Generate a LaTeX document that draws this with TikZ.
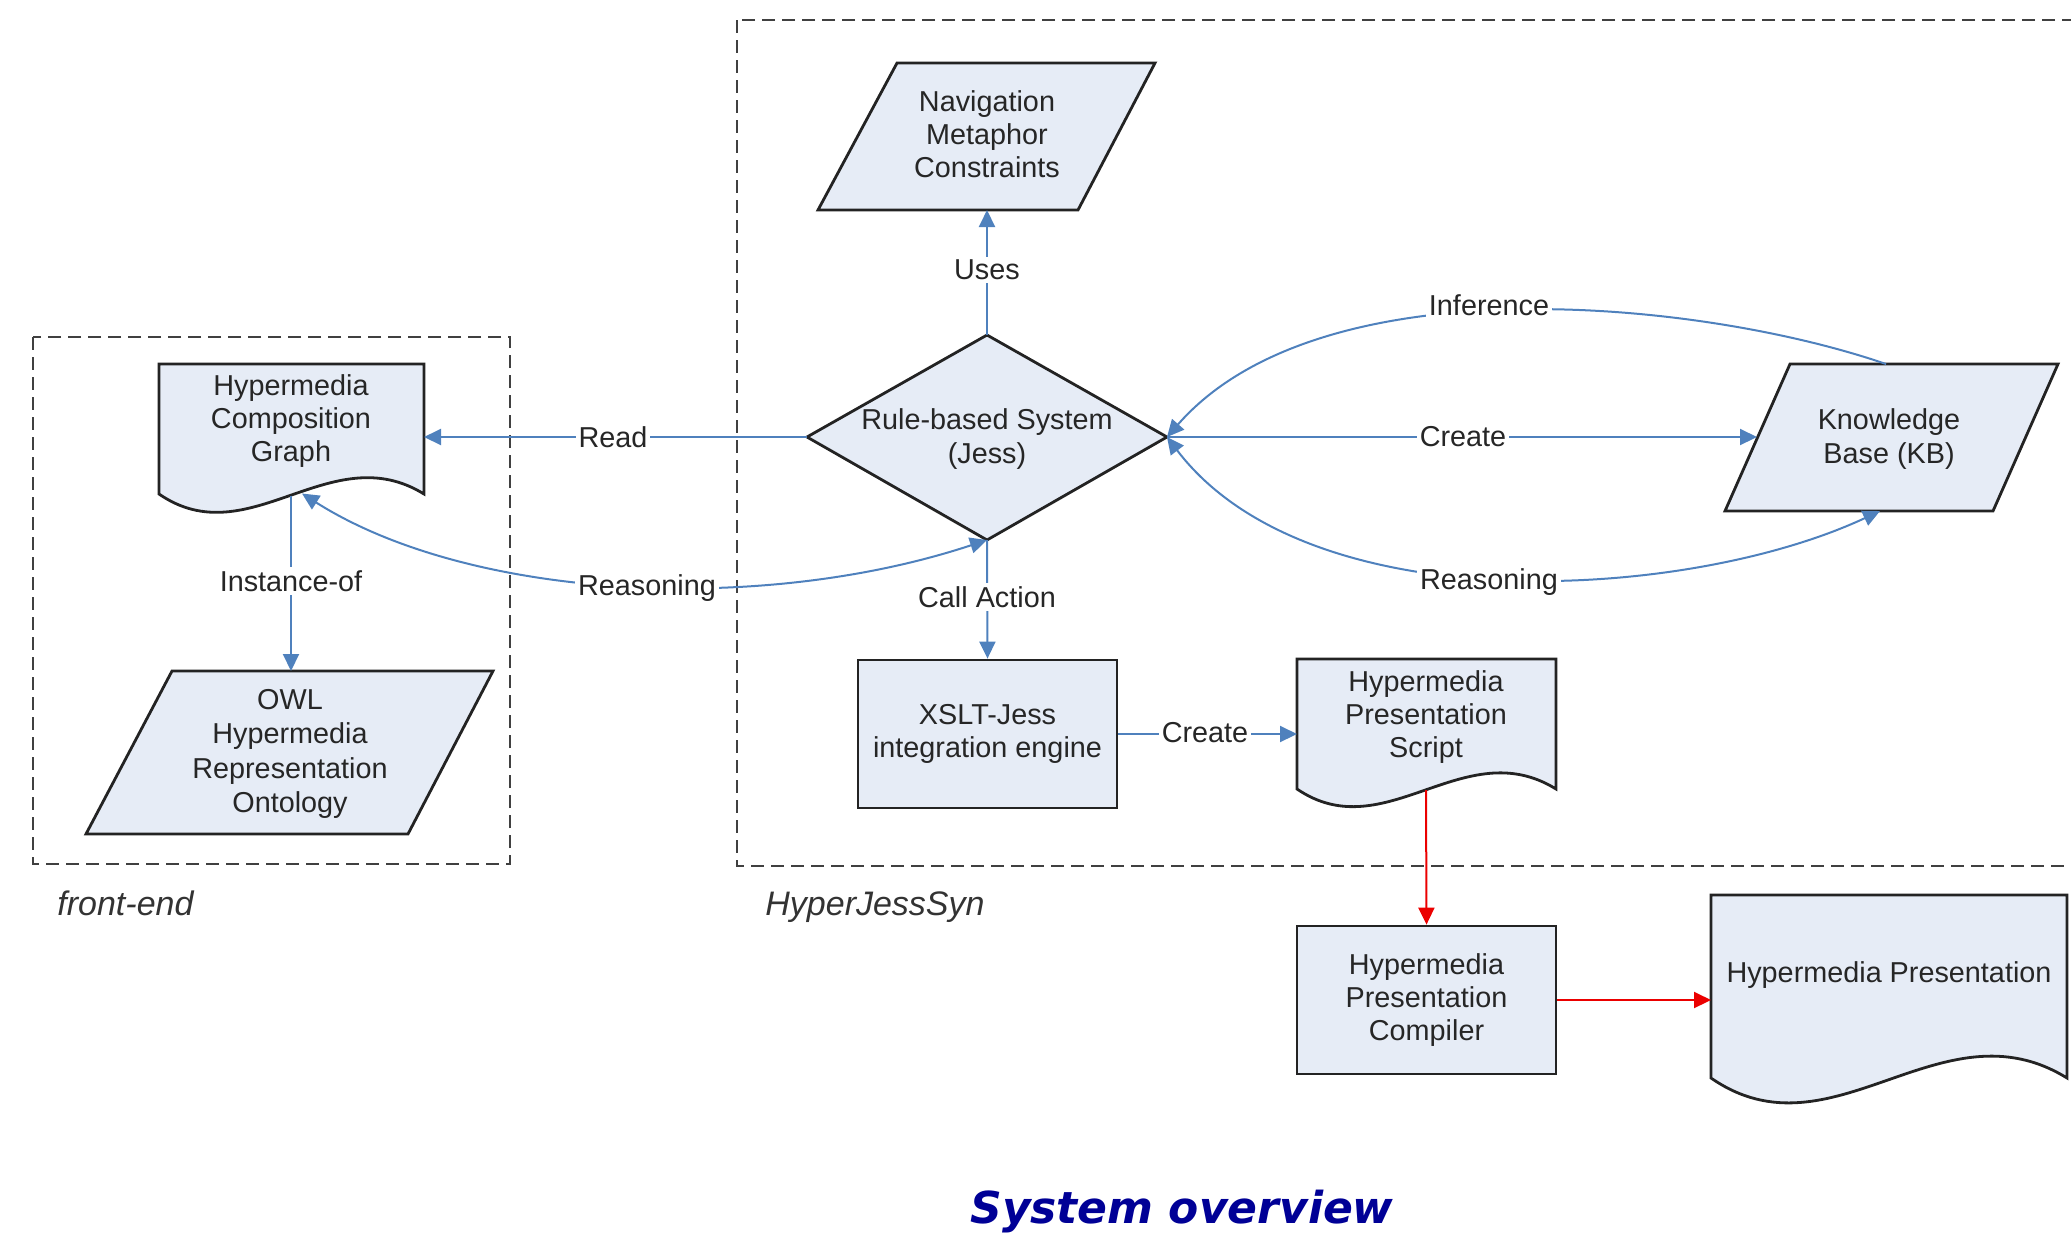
\documentclass[tikz,border=0pt]{standalone}
\usepackage{fontspec}
\setmainfont{Liberation Sans}
\newfontfamily\titlefont{DejaVu Sans}
\usetikzlibrary{arrows.meta}
\definecolor{shapefill}{RGB}{230,236,246}
\definecolor{edgeblue}{RGB}{79,129,189}
\definecolor{edgered}{RGB}{235,0,0}
\definecolor{outline}{RGB}{35,35,35}
\definecolor{titleblue}{RGB}{0,0,150}
\begin{document}
\begin{tikzpicture}[x=0.5pt,y=-0.5pt,
  shapeline/.style={draw=outline, line width=1.4pt, fill=shapefill, line join=miter},
  txt/.style={align=center, font=\fontsize{14.4}{16.6}\selectfont, text=black!85, inner sep=0pt},
  box/.style={shapeline, align=center, font=\fontsize{14.4}{16.6}\selectfont, text=black!85, inner sep=0pt, minimum width=129.5pt, minimum height=74pt},
  frame/.style={draw=black!75, line width=1.2pt, dash pattern=on 6.5pt off 3.5pt},
  tip/.tip={Triangle[length=8.5pt,width=8pt]},
  flow/.style={draw=edgeblue, line width=1pt, -tip},
  flowboth/.style={draw=edgeblue, line width=1pt, tip-tip},
  redflow/.style={draw=edgered, line width=1pt, -tip},
  lbl/.style={fill=white, inner sep=1.5pt, font=\fontsize{14.4}{16.6}\selectfont, text=black!85},
  grouplbl/.style={font=\fontsize{17}{20}\selectfont\itshape, text=black!80, anchor=base west, inner sep=0pt},
]
\useasboundingbox (0,0) rectangle (2071,1233);

% group frames
\draw[frame] (33,337) rectangle (510,864);
\begin{scope}
\clip (0,0) rectangle (2071,1233);
\draw[frame] (737,20) rectangle (2110,866);
\end{scope}
\node[grouplbl] (fe) at (57,915) {front-end};
\node[grouplbl] (hjs) at (765,915) {HyperJessSyn};

% Hypermedia Composition Graph (document)
\draw[shapeline] (159,364) -- (424,364) -- (424,494) .. controls (330,436) and (249,556) .. (159,494) -- cycle;
\node[txt] (hcg) at (291,421) {Hypermedia\\Composition\\Graph};
\coordinate (hcg-r) at (424,437);
\coordinate (hcg-w) at (291,495.5);
\coordinate (hcg-wr) at (302,493.5);

% OWL ontology (parallelogram)
\draw[shapeline] (172,671) -- (493,671) -- (408,834) -- (86,834) -- cycle;
\node[txt, font=\fontsize{14.4}{17.2}\selectfont] (owl) at (290,754) {OWL\\Hypermedia\\Representation\\Ontology};
\coordinate (owl-t) at (291,671);

% Navigation Metaphor Constraints (parallelogram)
\draw[shapeline] (897,63) -- (1155,63) -- (1078,210) -- (818,210) -- cycle;
\node[txt] (nmc) at (987,134) {Navigation\\Metaphor\\Constraints};
\coordinate (nmc-b) at (987,210);

% Rule-based system (diamond)
\draw[shapeline] (987,335) -- (1167,437) -- (987,540) -- (807,437) -- cycle;
\node[txt] (rbs) at (987,439) {Rule-based System\\(Jess)};
\coordinate (rbs-t) at (987,335);
\coordinate (rbs-r) at (1167,437);
\coordinate (rbs-b) at (987,540);
\coordinate (rbs-l) at (807,437);

% Knowledge base (parallelogram)
\draw[shapeline] (1790,364) -- (2058,364) -- (1993,511) -- (1725,511) -- cycle;
\node[txt] (kb) at (1889,439) {Knowledge\\Base (KB)};
\coordinate (kb-t) at (1886,364);
\coordinate (kb-l) at (1757,437);
\coordinate (kb-b) at (1880,511);

% XSLT-Jess engine
\node[box] (xslt) at (987.5,734) {XSLT-Jess\\integration engine};

% Hypermedia Presentation Script (document)
\draw[shapeline] (1297,659) -- (1556,659) -- (1556,789) .. controls (1464,732) and (1385,849) .. (1297,789) -- cycle;
\node[txt] (hps) at (1426,717) {Hypermedia\\Presentation\\Script};
\coordinate (hps-l) at (1297,734);
\coordinate (hps-w) at (1426,790);

% Compiler
\node[box] (hpc) at (1426.5,1000) {Hypermedia\\Presentation\\Compiler};

% Hypermedia Presentation (document)
\draw[shapeline] (1711,895) -- (2067,895) -- (2067,1078) .. controls (1941,1000) and (1832,1162) .. (1711,1078) -- cycle;
\node[txt] (hp) at (1889,975) {Hypermedia Presentation};
\coordinate (hp-l) at (1711,1000);

% connectors
\draw[flow] (rbs-t) -- (nmc-b);
\draw[flow] (rbs-l) -- (hcg-r);
\draw[flow] (hcg-w) -- (owl-t);
\draw[flowboth] (hcg-wr) .. controls (470,600) and (760,615) .. (rbs-b);
\draw[flow] (rbs-b) -- (xslt.north);
\draw[flow] (kb-t) .. controls (1700,300) and (1320,262) .. (rbs-r);
\draw[flow] (rbs-r) -- (kb-l);
\draw[flowboth] (rbs-r) .. controls (1310,625) and (1690,600) .. (kb-b);
\draw[flow] (xslt.east |- hps-l) -- (hps-l);
\draw[redflow] (hps-w) -- (hpc.north);
\draw[redflow] (hpc.east |- hp-l) -- (hp-l);

% connector labels
\node[lbl] (l-uses) at (987,270) {Uses};
\node[lbl] (l-read) at (613,437) {Read};
\node[lbl] (l-inst) at (291,581) {Instance-of};
\node[lbl] (l-reas1) at (647,588) {Reasoning};
\node[lbl] (l-call) at (987,597) {Call Action};
\node[lbl] (l-inf) at (1489,305) {Inference};
\node[lbl] (l-create) at (1463,437) {Create};
\node[lbl] (l-reas2) at (1489,582) {Reasoning};
\node[lbl] (l-create2) at (1205,733) {Create};

% title
\node[font={\fontsize{22}{26}\titlefont\bfseries\itshape}, text=titleblue, anchor=base, inner sep=0pt] (title) at (1182,1223) {System overview};
\end{tikzpicture}
\end{document}
